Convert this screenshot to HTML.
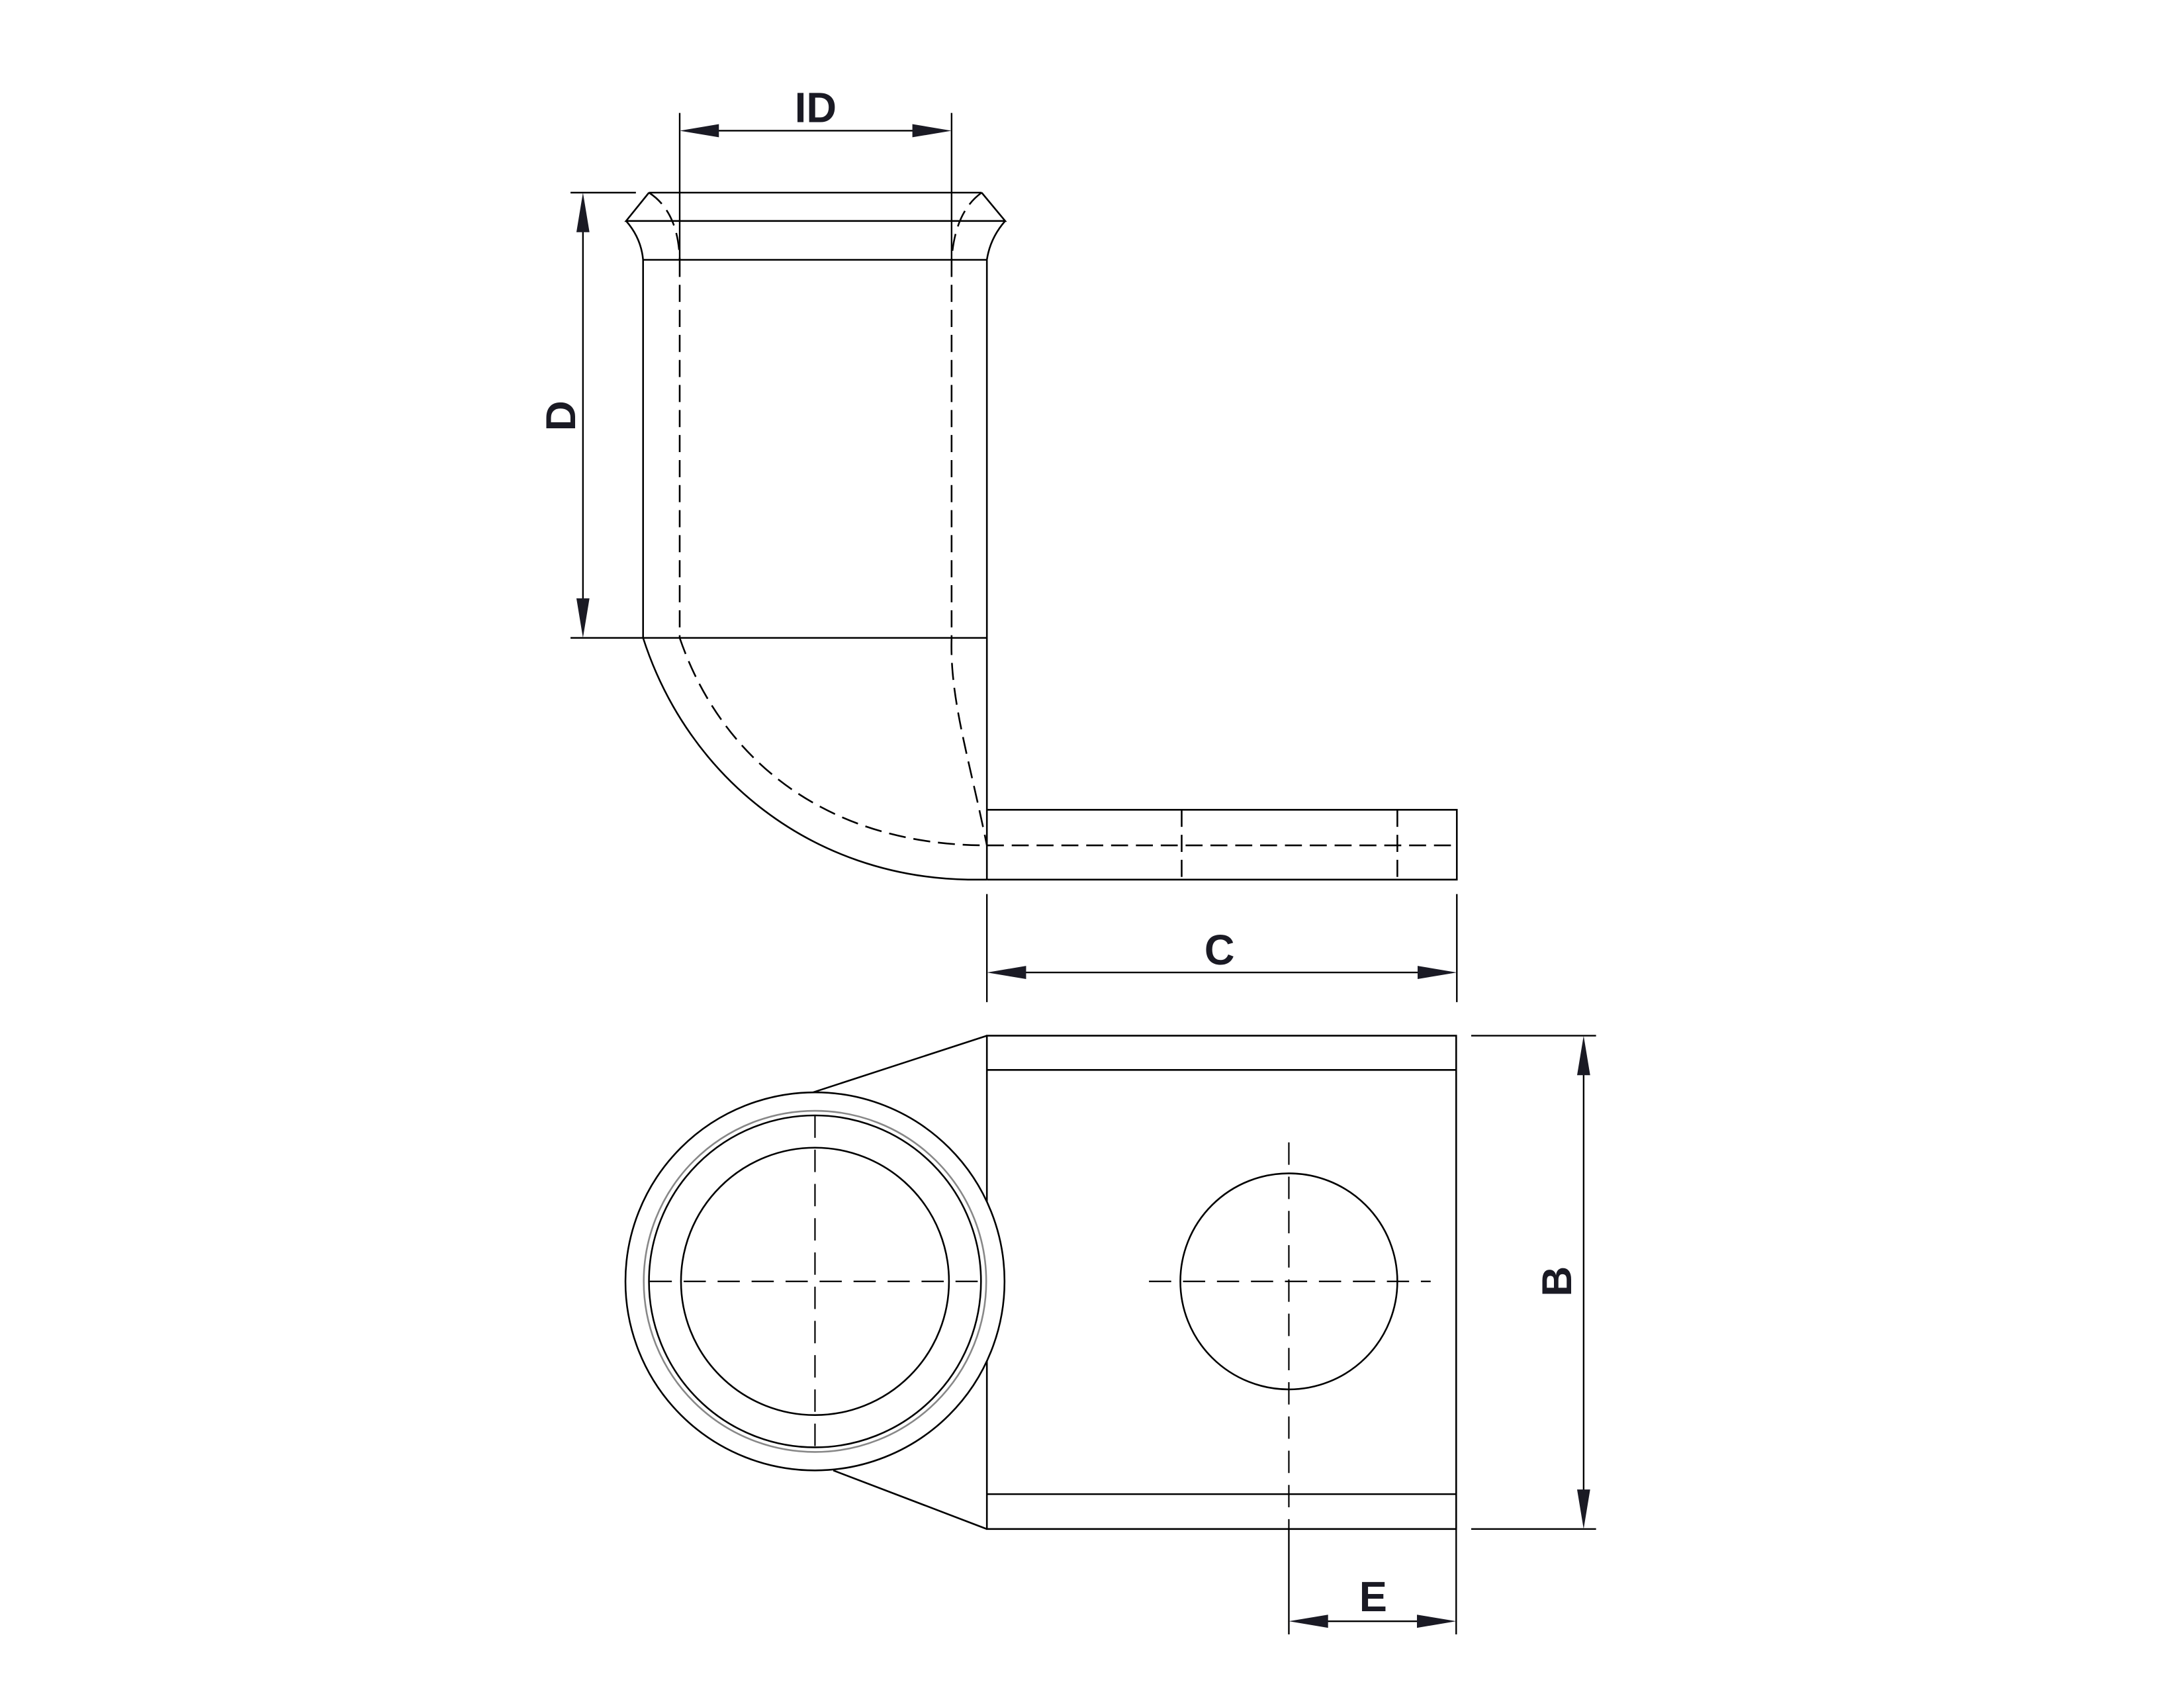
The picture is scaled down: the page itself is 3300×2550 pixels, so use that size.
<!DOCTYPE html>
<html><head><meta charset="utf-8"><style>
html,body{margin:0;padding:0;background:#fff}
svg{display:block}
text{font-family:"Liberation Sans",sans-serif;font-weight:bold;fill:#1a1a24}
</style></head><body>
<svg width="3300" height="2550" viewBox="0 0 3300 2550" xmlns="http://www.w3.org/2000/svg">
<g transform="translate(1027,291) scale(0.9876,0.995) translate(-1027,-291)">
<g fill="none" stroke="#000" stroke-width="2.6">
<path d="M980,291 L1489,291 M980,291 L945,334 L1525,334 L1489,291"/>
<path d="M945,334 Q968,360 971,393 M1525,334 Q1502,360 1497,393"/>
<path d="M971,393 L1497,393"/>
<path d="M971,393 L971,967 M1497,393 L1497,1334"/>
<path d="M971,967 L1497,967"/>
<path d="M971,967 C1040,1180 1230,1330 1468,1334 L1497,1334"/>
<path d="M1497,1228 L2216,1228 L2216,1334 L1497,1334"/>
</g>
<g fill="none" stroke="#000" stroke-width="2.6" stroke-dasharray="26,12">
<path d="M980,291 Q1025,320 1027,393"/>
<path d="M1489,291 Q1448,320 1443,393"/>
<path d="M1027,393 L1027,967 M1443,393 L1443,967"/>
<path d="M1027,967 C1090,1150 1250,1282 1497,1282"/>
<path d="M1443,967 C1440,1060 1470,1150 1497,1282"/>
<path d="M1497,1282 L2216,1282"/>
<path d="M1795,1228 L1795,1334 M2125,1228 L2125,1334"/>
</g>
<g stroke="#000" stroke-width="2.4" fill="none">
<path d="M1027,170 L1027,393 M1443,170 L1443,393"/>
<path d="M1040,197 L1430,197"/>
<path d="M860,291 L960,291 M860,967 L971,967"/>
<path d="M879,300 L879,958"/>
<path d="M1497,1356 L1497,1520 M2216,1356 L2216,1520"/>
<path d="M1510,1475 L2205,1475"/>
</g>
<g fill="#1a1a24">
<polygon points="1027,197 1087,187 1087,207"/>
<polygon points="1443,197 1383,187 1383,207"/>
<polygon points="879,291 869,351 889,351"/>
<polygon points="879,967 869,907 889,907"/>
<polygon points="1497,1475 1557,1465 1557,1485"/>
<polygon points="2216,1475 2156,1465 2156,1485"/>
</g>
<text x="1235" y="184" font-size="64" text-anchor="middle">ID</text>
<text x="0" y="0" font-size="64" text-anchor="middle" transform="translate(867,630) rotate(-90)">D</text>
<text x="1853" y="1463" font-size="64" text-anchor="middle">C</text>

<g fill="none" stroke="#000" stroke-width="2.6">
<path d="M1497,1571 L2215,1571 L2215,2320 L1497,2320 Z"/>
<path d="M1497,1623 L2215,1623 M1497,2267 L2215,2267"/>
<path d="M1231,1657 L1497,1571 M1262,2231 L1497,2320"/>
<ellipse cx="1234" cy="1944" rx="290" ry="287" fill="#fff"/>
<ellipse cx="1234" cy="1944" rx="262" ry="259" stroke="#888"/>
<ellipse cx="1234" cy="1944" rx="254" ry="252"/>
<ellipse cx="1234" cy="1944" rx="205" ry="203"/>
<ellipse cx="1959" cy="1944" rx="166" ry="164"/>
</g>
<g fill="none" stroke="#000" stroke-width="2.2" stroke-dasharray="34,18">
<path d="M981,1944 L1489,1944 M1234,1692 L1234,2196"/>
<path d="M1745,1944 L2176,1944 M1959,1733 L1959,2320"/>
</g>
<g stroke="#000" stroke-width="2.4" fill="none">
<path d="M1959,2320 L1959,2480 M2215,2320 L2215,2480"/>
<path d="M1970,2460 L2205,2460"/>
<path d="M2238,1571 L2429,1571 M2238,2320 L2429,2320"/>
<path d="M2410,1582 L2410,2310"/>
</g>
<g fill="#1a1a24">
<polygon points="1959,2460 2019,2450 2019,2470"/>
<polygon points="2215,2460 2155,2450 2155,2470"/>
<polygon points="2410,1571 2400,1631 2420,1631"/>
<polygon points="2410,2320 2400,2260 2420,2260"/>
</g>
<text x="2088" y="2445" font-size="64" text-anchor="middle">E</text>
<text x="0" y="0" font-size="64" text-anchor="middle" transform="translate(2391,1944) rotate(-90)">B</text>
</g>
</svg>
</body></html>
